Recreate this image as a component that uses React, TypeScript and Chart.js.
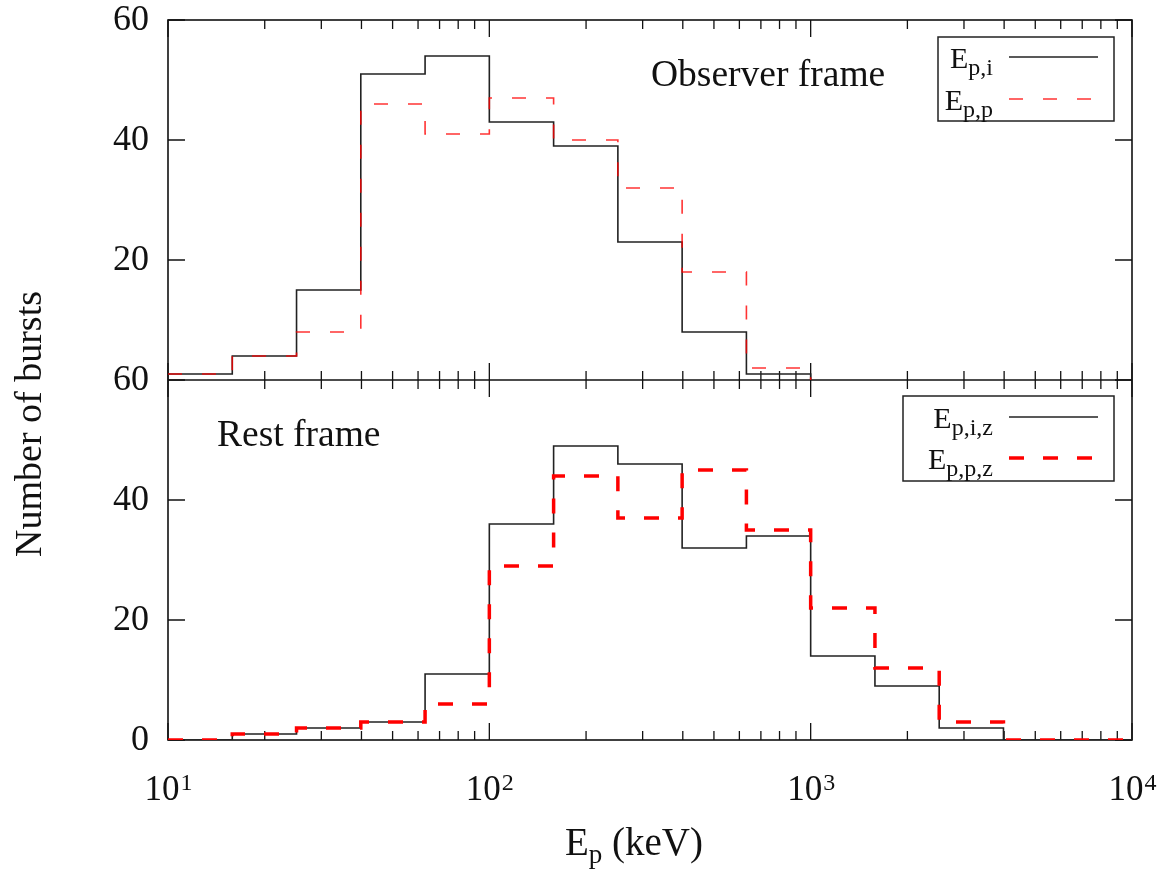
import React, { useEffect, useRef } from 'react';
import { Chart, registerables } from 'chart.js';

Chart.register(...registerables);

// Bin edges (keV), 5 bins per decade
const binEdges = [10, 15.85, 25.12, 39.81, 63.1, 100, 158.5, 251.2, 398.1, 631.0, 1000, 1585, 2512, 3981, 6310, 10000];

// Observer frame counts
const obsIntegrated = [1, 4, 15, 51, 54, 43, 39, 23, 8, 1];
const obsPeak = [1, 4, 8, 46, 41, 47, 40, 32, 18, 2];

// Rest frame counts
const restIntegrated = [0, 1, 2, 3, 11, 36, 49, 46, 32, 34, 14, 9, 2, 0, 0];
const restPeak = [0, 1, 2, 3, 6, 29, 44, 37, 45, 35, 22, 12, 3, 0, 0];

// Axis ticks
const xDecades = [1, 2, 3, 4];
const yTickValues = [0, 20, 40, 60];

const FONT = '"Liberation Serif", "Times New Roman", serif';

function stepPoints(edges: number[], vals: number[]) {
  const pts = vals.map((v, i) => ({ x: edges[i], y: v }));
  pts.push({ x: edges[vals.length], y: vals[vals.length - 1] });
  pts.push({ x: edges[vals.length], y: 0 });
  return pts;
}

function drawSub(ctx: CanvasRenderingContext2D, x: number, y: number, main: string, sub: string, mainSize: number, subSize: number, subDrop: number, align: 'left' | 'right' | 'center', rest = '') {
  ctx.font = `${mainSize}px ${FONT}`;
  const wm = ctx.measureText(main).width;
  const wr = rest ? ctx.measureText(rest).width : 0;
  ctx.font = `${subSize}px ${FONT}`;
  const ws = ctx.measureText(sub).width;
  const total = wm + ws + wr;
  let sx = x;
  if (align === 'right') sx = x - total;
  else if (align === 'center') sx = x - total / 2;
  ctx.textAlign = 'left';
  ctx.textBaseline = 'alphabetic';
  ctx.font = `${mainSize}px ${FONT}`;
  ctx.fillText(main, sx, y);
  ctx.font = `${subSize}px ${FONT}`;
  ctx.fillText(sub, sx + wm, y + subDrop);
  if (rest) {
    ctx.font = `${mainSize}px ${FONT}`;
    ctx.fillText(rest, sx + wm + ws, y);
  }
}

const framePlugin = {
  id: 'gnuplotFrame',
  beforeDatasetsDraw(chart: any) {
    const { ctx, chartArea: a, scales } = chart;
    const x = scales.x, yTop = scales.yTop, yBot = scales.yBot;
    const mid = yBot.getPixelForValue(60);
    ctx.save();
    ctx.strokeStyle = '#111';
    ctx.lineWidth = 1.6;
    ctx.strokeRect(a.left, a.top, a.right - a.left, a.bottom - a.top);
    ctx.beginPath();
    ctx.moveTo(a.left, mid);
    ctx.lineTo(a.right, mid);
    ctx.stroke();
    ctx.lineWidth = 1.3;
    ctx.beginPath();
    for (const d of xDecades) {
      for (let m = 1; m <= 9; m++) {
        if (d === 4 && m > 1) break;
        const v = m * Math.pow(10, d);
        const px = x.getPixelForValue(v);
        const L = m === 1 ? 17 : 9;
        ctx.moveTo(px, a.top); ctx.lineTo(px, a.top + L);
        ctx.moveTo(px, a.bottom); ctx.lineTo(px, a.bottom - L);
        ctx.moveTo(px, mid - L); ctx.lineTo(px, mid + L);
      }
    }
    for (const v of yTickValues) {
      for (const sc of [yTop, yBot]) {
        const py = sc.getPixelForValue(v);
        ctx.moveTo(a.left, py); ctx.lineTo(a.left + 17, py);
        ctx.moveTo(a.right, py); ctx.lineTo(a.right - 17, py);
      }
    }
    ctx.stroke();
    ctx.restore();
  },
  afterDraw(chart: any) {
    const { ctx, chartArea: a, scales } = chart;
    const x = scales.x, yTop = scales.yTop, yBot = scales.yBot;
    ctx.save();
    ctx.fillStyle = '#111';
    // y tick labels
    ctx.font = `36px ${FONT}`;
    ctx.textAlign = 'right';
    ctx.textBaseline = 'middle';
    for (const v of yTickValues) {
      if (v !== 0) ctx.fillText(String(v), a.left - 19, yTop.getPixelForValue(v) + 1);
      ctx.fillText(String(v), a.left - 19, yBot.getPixelForValue(v) + 1);
    }
    // x tick labels 10^n
    for (const d of xDecades) {
      const px = x.getPixelForValue(Math.pow(10, d));
      ctx.font = `35px ${FONT}`;
      const wb = ctx.measureText('10').width;
      ctx.font = `24px ${FONT}`;
      const ws = ctx.measureText(String(d)).width;
      const sx = px - (wb + ws) / 2;
      ctx.textAlign = 'left';
      ctx.textBaseline = 'alphabetic';
      ctx.font = `35px ${FONT}`;
      ctx.fillText('10', sx, a.bottom + 60);
      ctx.font = `24px ${FONT}`;
      ctx.fillText(String(d), sx + wb + 1, a.bottom + 50);
    }
    // axis titles
    drawSub(ctx, 634, 855, 'E', 'p', 39, 27, 8, 'center', ' (keV)');
    ctx.save();
    ctx.translate(41, 424);
    ctx.rotate(-Math.PI / 2);
    ctx.font = `38px ${FONT}`;
    ctx.textAlign = 'center';
    ctx.textBaseline = 'alphabetic';
    ctx.fillText('Number of bursts', 0, 0);
    ctx.restore();
    // panel labels
    ctx.font = `37.5px ${FONT}`;
    ctx.textAlign = 'left';
    ctx.textBaseline = 'alphabetic';
    ctx.fillText('Observer frame', 651, 86);
    ctx.fillText('Rest frame', 217, 446);

    // legends
    const legends = [
      { box: [938, 37, 1114, 121], items: [
        { sub: 'p,i', color: '#222', width: 1.6, dash: [] as number[], y: 57 },
        { sub: 'p,p', color: 'rgba(255,0,0,0.8)', width: 1.6, dash: [14, 20], y: 99 },
      ] },
      { box: [903, 396, 1114, 481], items: [
        { sub: 'p,i,z', color: '#222', width: 1.6, dash: [] as number[], y: 417 },
        { sub: 'p,p,z', color: '#ff0000', width: 3.5, dash: [15, 19], y: 458 },
      ] },
    ];
    for (const lg of legends) {
      const [x0, y0, x1, y1] = lg.box;
      ctx.strokeStyle = '#222';
      ctx.lineWidth = 1.5;
      ctx.setLineDash([]);
      ctx.strokeRect(x0, y0, x1 - x0, y1 - y0);
      for (const it of lg.items) {
        ctx.fillStyle = '#111';
        drawSub(ctx, 993, it.y + 11, 'E', it.sub, 30, 24, 7, 'right');
        ctx.strokeStyle = it.color;
        ctx.lineWidth = it.width;
        ctx.setLineDash(it.dash);
        ctx.beginPath();
        ctx.moveTo(1009, it.y);
        ctx.lineTo(1098, it.y);
        ctx.stroke();
      }
    }
    ctx.restore();
  },
};

export default function App() {
  const ref = useRef<HTMLCanvasElement | null>(null);
  useEffect(() => {
    if (!ref.current) return;
    const chart = new Chart(ref.current, {
      type: 'line',
      data: {
        datasets: [
          {
            label: 'E_p,p',
            data: stepPoints(binEdges, obsPeak),
            yAxisID: 'yTop',
            borderColor: 'rgba(255,0,0,0.8)',
            borderWidth: 1.6,
            borderDash: [14, 20],
            stepped: true,
            pointRadius: 0,
            fill: false,
          },
          {
            label: 'E_p,p,z',
            data: stepPoints(binEdges, restPeak),
            yAxisID: 'yBot',
            borderColor: '#ff0000',
            borderWidth: 3.5,
            borderDash: [15, 19],
            stepped: true,
            pointRadius: 0,
            fill: false,
          },
          {
            label: 'E_p,i',
            data: stepPoints(binEdges, obsIntegrated),
            yAxisID: 'yTop',
            borderColor: '#222',
            borderWidth: 1.6,
            stepped: true,
            pointRadius: 0,
            fill: false,
          },
          {
            label: 'E_p,i,z',
            data: stepPoints(binEdges, restIntegrated),
            yAxisID: 'yBot',
            borderColor: '#222',
            borderWidth: 1.6,
            stepped: true,
            pointRadius: 0,
            fill: false,
          },
        ],
      },
      options: {
        responsive: false,
        animation: false,
        layout: { padding: { left: 168, right: 29, top: 20, bottom: 129 } },
        plugins: { legend: { display: false }, title: { display: false }, tooltip: { enabled: false } },
        scales: {
          x: { type: 'logarithmic', min: 10, max: 10000, display: false },
          yTop: { type: 'linear', min: -60, max: 60, display: false },
          yBot: { type: 'linear', min: 0, max: 120, display: false },
        },
      },
      plugins: [framePlugin],
    } as any);
    return () => chart.destroy();
  }, []);
  return (
    <div style={{ position: 'absolute', left: 0, top: 0, width: 1161, height: 869, background: '#fff' }}>
      <canvas ref={ref} width={1161} height={869} style={{ display: 'block' }} />
    </div>
  );
}
